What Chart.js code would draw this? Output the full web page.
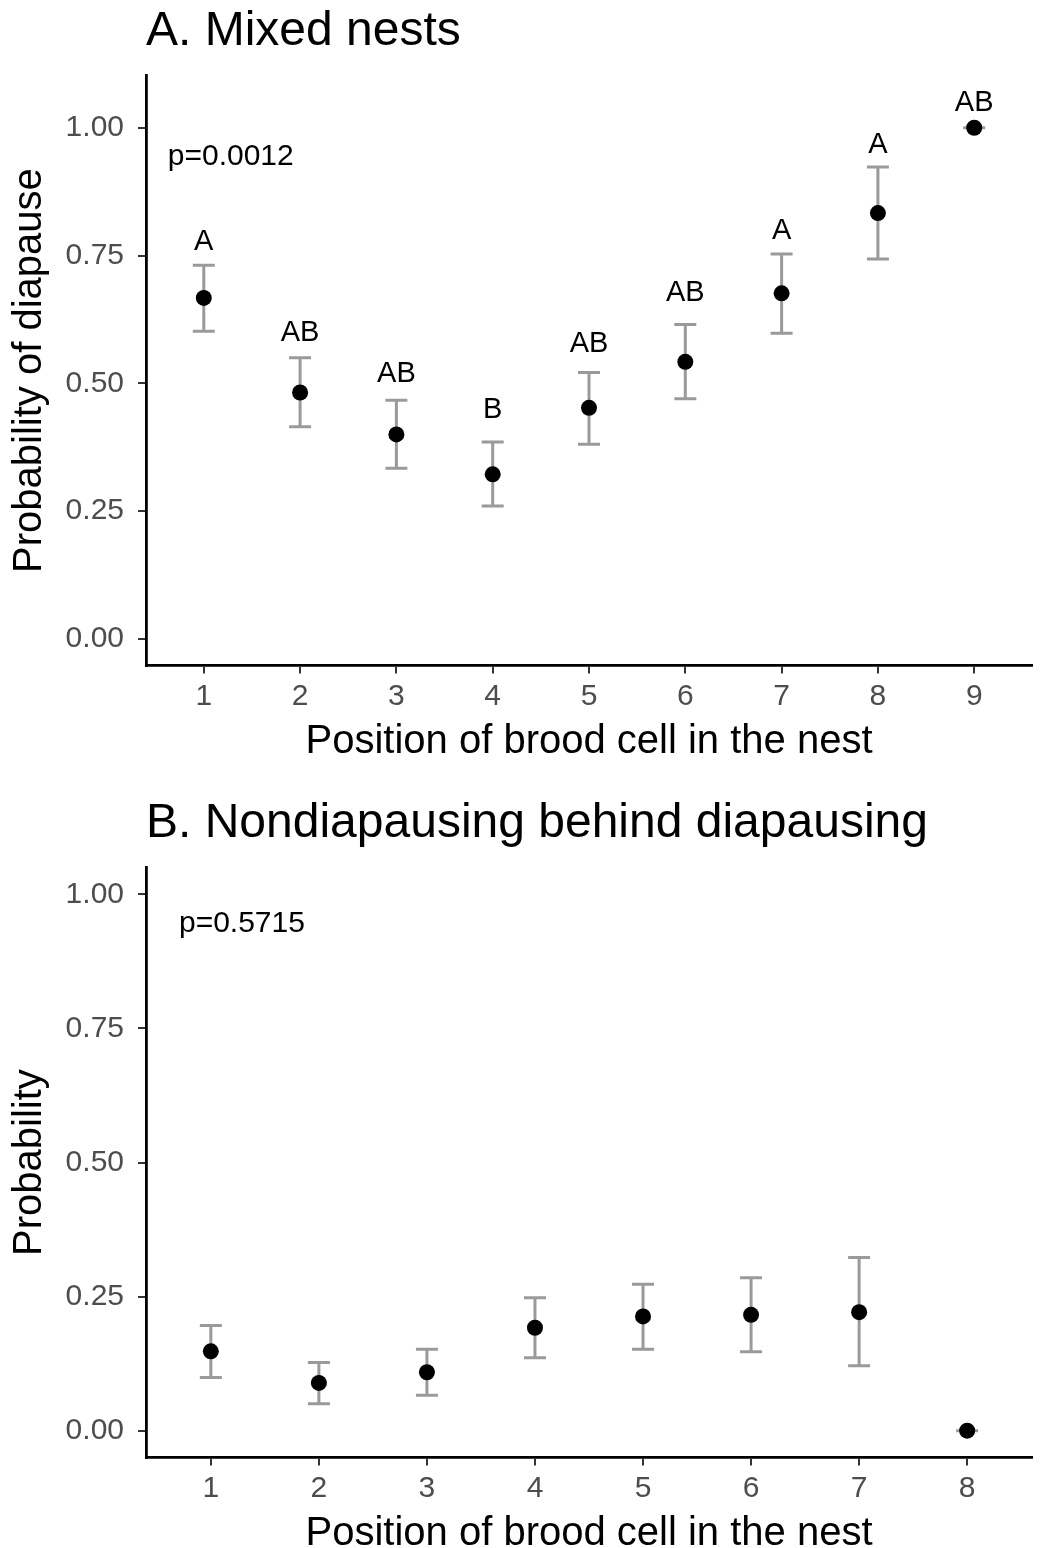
<!DOCTYPE html>
<html>
<head>
<meta charset="utf-8">
<script src="https://cdn.jsdelivr.net/npm/chart.js@4/dist/chart.umd.min.js"></script>
<style>
  html, body { margin: 0; padding: 0; background: #fff; width: 1040px; height: 1548px; overflow: hidden; }
  .panel { position: absolute; left: 0; width: 1040px; height: 780px; }
  #pa { top: 0; }
  #pb { top: 792px; }
</style>
</head>
<body>
<div class="panel" id="pa"><canvas id="chartA" width="1040" height="780"></canvas></div>
<div class="panel" id="pb"><canvas id="chartB" width="1040" height="780"></canvas></div>
<script>
// ---------- Panel A: Mixed nests ----------
const positionsA = [1, 2, 3, 4, 5, 6, 7, 8, 9];
const meanA  = [0.667, 0.482, 0.400, 0.322, 0.452, 0.542, 0.676, 0.833, 1.000];
const lowerA = [0.602, 0.415, 0.334, 0.260, 0.381, 0.470, 0.598, 0.743, 1.000];
const upperA = [0.731, 0.550, 0.467, 0.385, 0.521, 0.615, 0.753, 0.923, 1.000];
const lettersA = ['A', 'AB', 'AB', 'B', 'AB', 'AB', 'A', 'A', 'AB'];
const letterYA = [0.776, 0.598, 0.518, 0.447, 0.577, 0.677, 0.798, 0.966, 1.048];
const pTextA = 'p=0.0012';
const pPosA = [0.626, 0.943];

// ---------- Panel B: Nondiapausing behind diapausing ----------
const positionsB = [1, 2, 3, 4, 5, 6, 7, 8];
const meanB  = [0.148, 0.089, 0.109, 0.192, 0.213, 0.216, 0.221, 0.000];
const lowerB = [0.099, 0.050, 0.066, 0.136, 0.152, 0.147, 0.121, 0.000];
const upperB = [0.196, 0.127, 0.152, 0.248, 0.273, 0.285, 0.323, 0.000];
const pTextB = 'p=0.5715';
const pPosB = [0.705, 0.946];

const yTicks = [0, 0.25, 0.5, 0.75, 1.0];

const FONT = '"Liberation Sans", Arial, Helvetica, sans-serif';

const errPlugin = {
  id: 'errbars',
  beforeDatasetsDraw(chart, args, o) {
    const { ctx, scales: { x, y } } = chart;
    ctx.save();
    ctx.strokeStyle = '#9a9a9a';
    ctx.lineWidth = 3;
    ctx.lineCap = 'butt';
    const hw = 11;
    o.cats.forEach((c, i) => {
      const px = x.getPixelForValue(c);
      const pl = y.getPixelForValue(o.lower[i]);
      const pu = y.getPixelForValue(o.upper[i]);
      ctx.beginPath();
      ctx.moveTo(px, pl); ctx.lineTo(px, pu);
      ctx.moveTo(px - hw, pl); ctx.lineTo(px + hw, pl);
      ctx.moveTo(px - hw, pu); ctx.lineTo(px + hw, pu);
      ctx.stroke();
    });
    ctx.restore();
  },
  afterDatasetsDraw(chart, args, o) {
    const { ctx, scales: { x, y } } = chart;
    ctx.save();
    ctx.fillStyle = '#000';
    ctx.textBaseline = 'middle';
    ctx.font = '29px ' + FONT;
    ctx.textAlign = 'center';
    if (o.letters) {
      o.letters.forEach((t, i) => {
        ctx.fillText(t, x.getPixelForValue(o.cats[i]), y.getPixelForValue(o.letterY[i]));
      });
    }
    ctx.font = '30px ' + FONT;
    ctx.textAlign = 'left';
    ctx.fillText(o.pText, x.getPixelForValue(o.pPos[0]), y.getPixelForValue(o.pPos[1]));
    ctx.restore();
  }
};

function makeChart(id, cfg) {
  const data = cfg.cats.map((c, i) => ({ x: c, y: cfg.mean[i] }));
  return new Chart(document.getElementById(id), {
    type: 'scatter',
    data: {
      datasets: [{
        data: data,
        pointRadius: 8,
        pointHoverRadius: 8,
        backgroundColor: '#000',
        borderWidth: 0,
        showLine: false
      }]
    },
    plugins: [errPlugin],
    options: {
      responsive: false,
      animation: false,
      events: [],
      layout: { padding: { top: 0, left: 0, right: 8, bottom: 0 } },
      plugins: {
        legend: { display: false },
        tooltip: { enabled: false },
        title: {
          display: true,
          text: cfg.title,
          align: 'start',
          fullSize: false,
          color: '#000',
          font: { family: FONT, size: 48, weight: 'normal', lineHeight: 1.2 },
          padding: { top: 3, bottom: 15 }
        },
        errbars: {
          cats: cfg.cats, lower: cfg.lower, upper: cfg.upper,
          letters: cfg.letters, letterY: cfg.letterY,
          pText: cfg.pText, pPos: cfg.pPos
        }
      },
      scales: {
        x: {
          type: 'linear',
          min: 0.4,
          max: cfg.cats.length + 0.6,
          afterBuildTicks: (s) => { s.ticks = cfg.cats.map(v => ({ value: v })); },
          afterFit: (s) => { s.height = 114.5; },
          ticks: {
            color: '#4d4d4d',
            font: { family: FONT, size: 30, lineHeight: 1.2 },
            padding: 5,
            maxRotation: 0,
            autoSkip: false,
            callback: (v) => String(v)
          },
          grid: { display: true, drawOnChartArea: false, drawTicks: true, tickLength: 8, color: '#333', lineWidth: 2 },
          border: { display: true, color: '#000', width: 2.8 },
          title: {
            display: true,
            text: 'Position of brood cell in the nest',
            color: '#000',
            font: { family: FONT, size: 40, lineHeight: 1.2 },
            padding: { top: 0, bottom: 14 }
          }
        },
        y: {
          type: 'linear',
          min: cfg.ymin,
          max: cfg.ymax,
          afterBuildTicks: (s) => { s.ticks = yTicks.map(v => ({ value: v })); },
          afterFit: (s) => { s.width = 146; },
          ticks: {
            color: '#4d4d4d',
            font: { family: FONT, size: 30, lineHeight: 1.2 },
            padding: 14,
            callback: (v) => Number(v).toFixed(2)
          },
          grid: { display: true, drawOnChartArea: false, drawTicks: true, tickLength: 8, color: '#333', lineWidth: 2 },
          border: { display: true, color: '#000', width: 2.8 },
          title: {
            display: true,
            text: cfg.ytitle,
            color: '#000',
            font: { family: FONT, size: 40, lineHeight: 1.2 },
            padding: { top: 6, bottom: 0 }
          }
        }
      }
    }
  });
}

makeChart('chartA', {
  title: 'A. Mixed nests', ytitle: 'Probability of diapause',
  cats: positionsA, mean: meanA, lower: lowerA, upper: upperA,
  letters: lettersA, letterY: letterYA, pText: pTextA, pPos: pPosA,
  ymin: -0.052, ymax: 1.102
});
makeChart('chartB', {
  title: 'B. Nondiapausing behind diapausing', ytitle: 'Probability',
  cats: positionsB, mean: meanB, lower: lowerB, upper: upperB,
  letters: null, letterY: null, pText: pTextB, pPos: pPosB,
  ymin: -0.05, ymax: 1.05
});
</script>
</body>
</html>
